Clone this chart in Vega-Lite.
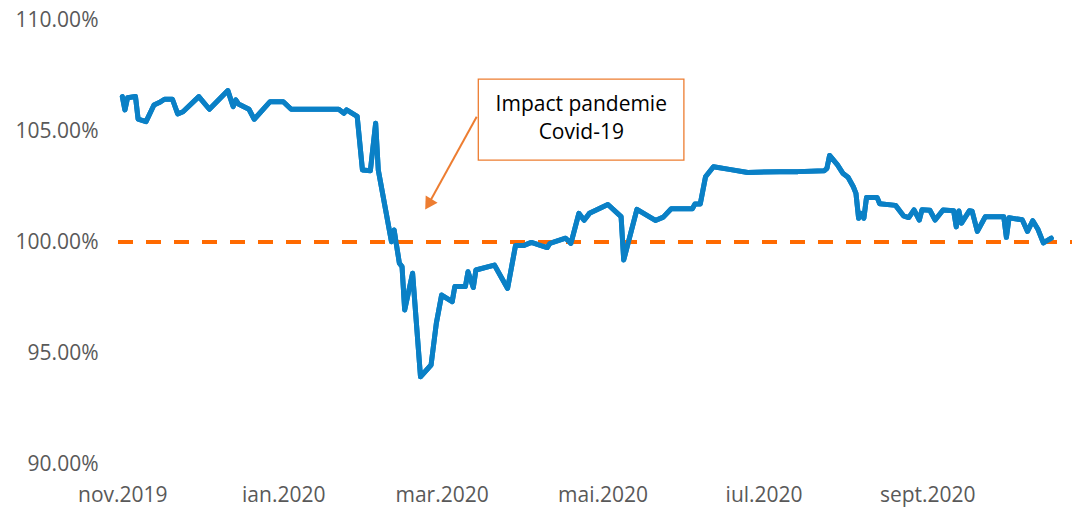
{
  "$schema": "https://vega.github.io/schema/vega-lite/v6.json",
  "width": 954,
  "height": 444,
  "autosize": {"type": "none"},
  "padding": {"left": 118, "top": 20, "right": 0, "bottom": 44},
  "config": {
    "view": {"stroke": null},
    "font": "Open Sans",
    "axis": {"labelFont": "Open Sans", "labelFontSize": 21, "labelColor": "#595959", "grid": false, "domain": false, "ticks": false, "tickSize": 0, "labelFlush": false, "labelOverlap": false}
  },
  "datasets": {
    "series": [
      {"date": "2019-11-01", "value": 1.0655},
      {"date": "2019-11-02", "value": 1.0595},
      {"date": "2019-11-03", "value": 1.0650},
      {"date": "2019-11-06", "value": 1.0655},
      {"date": "2019-11-07", "value": 1.0553},
      {"date": "2019-11-10", "value": 1.0542},
      {"date": "2019-11-13", "value": 1.0617},
      {"date": "2019-11-15", "value": 1.0628},
      {"date": "2019-11-17", "value": 1.0643},
      {"date": "2019-11-20", "value": 1.0643},
      {"date": "2019-11-22", "value": 1.0577},
      {"date": "2019-11-24", "value": 1.0587},
      {"date": "2019-11-30", "value": 1.0655},
      {"date": "2019-12-04", "value": 1.0598},
      {"date": "2019-12-11", "value": 1.0682},
      {"date": "2019-12-13", "value": 1.0610},
      {"date": "2019-12-14", "value": 1.0640},
      {"date": "2019-12-15", "value": 1.0622},
      {"date": "2019-12-19", "value": 1.0598},
      {"date": "2019-12-21", "value": 1.0553},
      {"date": "2019-12-27", "value": 1.0632},
      {"date": "2020-01-01", "value": 1.0632},
      {"date": "2020-01-04", "value": 1.0598},
      {"date": "2020-01-22", "value": 1.0598},
      {"date": "2020-01-24", "value": 1.0580},
      {"date": "2020-01-25", "value": 1.0595},
      {"date": "2020-01-29", "value": 1.0566},
      {"date": "2020-01-31", "value": 1.0324},
      {"date": "2020-02-03", "value": 1.0321},
      {"date": "2020-02-05", "value": 1.0535},
      {"date": "2020-02-06", "value": 1.0324},
      {"date": "2020-02-11", "value": 1.0001},
      {"date": "2020-02-12", "value": 1.0054},
      {"date": "2020-02-14", "value": 0.9904},
      {"date": "2020-02-15", "value": 0.9889},
      {"date": "2020-02-16", "value": 0.9694},
      {"date": "2020-02-19", "value": 0.9859},
      {"date": "2020-02-22", "value": 0.9393},
      {"date": "2020-02-26", "value": 0.9446},
      {"date": "2020-02-28", "value": 0.9634},
      {"date": "2020-03-01", "value": 0.9761},
      {"date": "2020-03-05", "value": 0.9731},
      {"date": "2020-03-06", "value": 0.9799},
      {"date": "2020-03-10", "value": 0.9799},
      {"date": "2020-03-11", "value": 0.9866},
      {"date": "2020-03-13", "value": 0.9795},
      {"date": "2020-03-14", "value": 0.9874},
      {"date": "2020-03-21", "value": 0.9896},
      {"date": "2020-03-26", "value": 0.9791},
      {"date": "2020-03-29", "value": 0.9984},
      {"date": "2020-04-01", "value": 0.9984},
      {"date": "2020-04-04", "value": 0.9998},
      {"date": "2020-04-10", "value": 0.9975},
      {"date": "2020-04-11", "value": 0.9994},
      {"date": "2020-04-17", "value": 1.0017},
      {"date": "2020-04-19", "value": 0.9994},
      {"date": "2020-04-22", "value": 1.0129},
      {"date": "2020-04-24", "value": 1.0098},
      {"date": "2020-04-26", "value": 1.0129},
      {"date": "2020-05-03", "value": 1.0169},
      {"date": "2020-05-08", "value": 1.0114},
      {"date": "2020-05-09", "value": 0.9919},
      {"date": "2020-05-14", "value": 1.0147},
      {"date": "2020-05-21", "value": 1.0097},
      {"date": "2020-05-24", "value": 1.0112},
      {"date": "2020-05-27", "value": 1.0150},
      {"date": "2020-06-04", "value": 1.0150},
      {"date": "2020-06-05", "value": 1.0171},
      {"date": "2020-06-07", "value": 1.0171},
      {"date": "2020-06-09", "value": 1.0294},
      {"date": "2020-06-12", "value": 1.0339},
      {"date": "2020-06-18", "value": 1.0327},
      {"date": "2020-06-25", "value": 1.0313},
      {"date": "2020-07-07", "value": 1.0317},
      {"date": "2020-07-14", "value": 1.0317},
      {"date": "2020-07-24", "value": 1.0321},
      {"date": "2020-07-25", "value": 1.0332},
      {"date": "2020-07-26", "value": 1.0390},
      {"date": "2020-07-29", "value": 1.0347},
      {"date": "2020-07-31", "value": 1.0310},
      {"date": "2020-08-02", "value": 1.0292},
      {"date": "2020-08-04", "value": 1.0249},
      {"date": "2020-08-05", "value": 1.0219},
      {"date": "2020-08-06", "value": 1.0107},
      {"date": "2020-08-07", "value": 1.0129},
      {"date": "2020-08-08", "value": 1.0107},
      {"date": "2020-08-09", "value": 1.0201},
      {"date": "2020-08-13", "value": 1.0201},
      {"date": "2020-08-14", "value": 1.0172},
      {"date": "2020-08-20", "value": 1.0165},
      {"date": "2020-08-23", "value": 1.0118},
      {"date": "2020-08-25", "value": 1.0110},
      {"date": "2020-08-27", "value": 1.0145},
      {"date": "2020-08-29", "value": 1.0099},
      {"date": "2020-08-30", "value": 1.0145},
      {"date": "2020-09-02", "value": 1.0143},
      {"date": "2020-09-04", "value": 1.0099},
      {"date": "2020-09-07", "value": 1.0144},
      {"date": "2020-09-11", "value": 1.0141},
      {"date": "2020-09-12", "value": 1.0068},
      {"date": "2020-09-13", "value": 1.0140},
      {"date": "2020-09-14", "value": 1.0085},
      {"date": "2020-09-17", "value": 1.0141},
      {"date": "2020-09-18", "value": 1.0139},
      {"date": "2020-09-20", "value": 1.0048},
      {"date": "2020-09-23", "value": 1.0114},
      {"date": "2020-09-30", "value": 1.0114},
      {"date": "2020-10-01", "value": 1.0021},
      {"date": "2020-10-02", "value": 1.0109},
      {"date": "2020-10-07", "value": 1.0100},
      {"date": "2020-10-09", "value": 1.0048},
      {"date": "2020-10-11", "value": 1.0096},
      {"date": "2020-10-13", "value": 1.0056},
      {"date": "2020-10-15", "value": 0.9996},
      {"date": "2020-10-18", "value": 1.0017}
    ],
    "reference": [{"value": 1.0}],
    "box": [{"date": "2020-03-14T21:36:00Z", "date2": "2020-05-31T19:12:00Z", "value": 1.0734, "value2": 1.0369}],
    "labels": [
      {"date": "2020-04-22T22:00:00Z", "value": 1.0617, "label": "Impact pandemie"},
      {"date": "2020-04-22T22:00:00Z", "value": 1.0491, "label": "Covid-19"}
    ],
    "shaft": [
      {"date": "2020-03-14T07:00:00Z", "value": 1.0564},
      {"date": "2020-02-25T00:00:00Z", "value": 1.0170}
    ],
    "head": [{"date": "2020-02-25T00:00:00Z", "value": 1.0170}]
  },
  "layer": [
    {
      "data": {"name": "series"},
      "mark": {"type": "line", "color": "#0A80C6", "strokeWidth": 5, "strokeJoin": "round", "strokeCap": "round"},
      "encoding": {
        "x": {
          "field": "date", "type": "temporal", "title": null,
          "scale": {"type": "utc", "domain": [
            {"year": 2019, "month": 10, "date": 30, "hours": 9, "utc": true},
            {"year": 2020, "month": 10, "date": 25, "hours": 20, "minutes": 38, "utc": true}
          ]},
          "axis": {
            "values": [
              {"year": 2019, "month": 11, "date": 1, "utc": true},
              {"year": 2020, "month": 1, "date": 1, "utc": true},
              {"year": 2020, "month": 3, "date": 1, "utc": true},
              {"year": 2020, "month": 5, "date": 1, "utc": true},
              {"year": 2020, "month": 7, "date": 1, "utc": true},
              {"year": 2020, "month": 9, "date": 1, "utc": true}
            ],
            "labelExpr": "['ian','feb','mar','apr','mai','iun','iul','aug','sept','oct','nov','dec'][utcmonth(datum.value)] + '.' + utcyear(datum.value)",
            "labelPadding": 20
          }
        },
        "y": {
          "field": "value", "type": "quantitative", "title": null,
          "scale": {"domain": [0.9, 1.1], "zero": false, "nice": false},
          "axis": {
            "values": [0.9, 0.95, 1.0, 1.05, 1.1],
            "format": ".2%",
            "labelPadding": 20
          }
        }
      }
    },
    {
      "data": {"name": "box"},
      "mark": {"type": "rect", "fill": "#ffffff", "stroke": "#ED7D31", "strokeWidth": 1.3},
      "encoding": {
        "x": {"field": "date", "type": "temporal", "title": null},
        "x2": {"field": "date2"},
        "y": {"field": "value", "type": "quantitative", "title": null},
        "y2": {"field": "value2"}
      }
    },
    {
      "data": {"name": "labels"},
      "mark": {"type": "text", "font": "Open Sans", "fontSize": 21, "color": "#000000", "align": "center", "baseline": "middle"},
      "encoding": {
        "x": {"field": "date", "type": "temporal", "title": null},
        "y": {"field": "value", "type": "quantitative", "title": null},
        "text": {"field": "label"}
      }
    },
    {
      "data": {"name": "reference"},
      "mark": {"type": "rule", "color": "#FF6A00", "strokeWidth": 4, "strokeDash": [15, 13], "strokeDashOffset": 13},
      "encoding": {
        "y": {"field": "value", "type": "quantitative", "title": null}
      }
    },
    {
      "data": {"name": "series"},
      "mark": {"type": "line", "color": "#0A80C6", "strokeWidth": 5, "strokeJoin": "round", "strokeCap": "round"},
      "encoding": {
        "x": {"field": "date", "type": "temporal", "title": null},
        "y": {"field": "value", "type": "quantitative", "title": null}
      }
    },
    {
      "data": {"name": "shaft"},
      "mark": {"type": "line", "color": "#ED7D31", "strokeWidth": 2},
      "encoding": {
        "x": {"field": "date", "type": "temporal", "title": null},
        "y": {"field": "value", "type": "quantitative", "title": null}
      }
    },
    {
      "data": {"name": "head"},
      "mark": {"type": "point", "shape": "triangle-up", "angle": 212, "size": 196, "filled": true, "color": "#ED7D31", "opacity": 1},
      "encoding": {
        "x": {"field": "date", "type": "temporal", "title": null},
        "y": {"field": "value", "type": "quantitative", "title": null}
      }
    }
  ]
}
